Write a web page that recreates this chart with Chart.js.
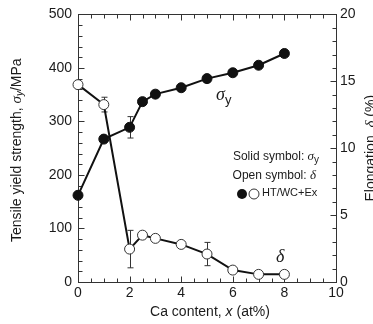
<!DOCTYPE html>
<html>
<head>
<meta charset="utf-8">
<script src="https://cdn.jsdelivr.net/npm/chart.js@4.4.1/dist/chart.umd.min.js"></script>
<style>
  html, body { margin: 0; padding: 0; background: #fff; }
</style>
</head>
<body>
<canvas id="chart" width="373" height="324"></canvas>
<script>
// Ca content, x (at%)
const caContent = [0, 1, 2, 2.5, 3, 4, 5, 6, 7, 8]
// tensile yield strength sigma_y (MPa) - solid symbols
const yieldStrength = [162, 267, 289, 337, 351, 363, 380, 391, 405, 427]
// elongation delta (%) - open symbols
const elongation = [14.75, 13.26, 2.46, 3.5, 3.26, 2.81, 2.09, 0.89, 0.57, 0.57]
// error bars as [x, half range]
const strengthErr = [[2, 20]]
const elongationErr = [[1, 0.55], [2, 1.4], [5, 0.87]]
// tick labels
const xTicks = [0, 2, 4, 6, 8, 10]
const yTicks = [0, 100, 200, 300, 400, 500]
const y2Ticks = [0, 5, 10, 15, 20]

const SANS = "'Liberation Sans', Arial, sans-serif"
const SERIF = "'Liberation Serif', 'Times New Roman', serif"
const INK = '#1b1b1b'

// draws a run of text pieces with different fonts, [text, font, dy]
function richText(ctx, parts, x, y, align, rot) {
  ctx.save()
  ctx.translate(x, y)
  if (rot) ctx.rotate(rot)
  ctx.fillStyle = INK
  ctx.textBaseline = 'middle'
  ctx.textAlign = 'left'
  let w = 0
  parts.forEach(p => { ctx.font = p[1]; w += ctx.measureText(p[0]).width })
  let cx = align === 'right' ? -w : align === 'center' ? -w / 2 : 0
  parts.forEach(p => {
    ctx.font = p[1]
    ctx.fillText(p[0], cx, p[2] || 0)
    cx += ctx.measureText(p[0]).width
  })
  ctx.restore()
}

function seg(ctx, x1, y1, x2, y2) {
  ctx.beginPath()
  ctx.moveTo(x1, y1)
  ctx.lineTo(x2, y2)
  ctx.stroke()
}

const framePlugin = {
  id: 'frame',
  beforeDatasetsDraw(chart) {
    const { ctx, chartArea: a, scales: { x, y, y2 } } = chart
    ctx.save()
    ctx.strokeStyle = '#333'
    ctx.lineWidth = 1
    const L = Math.round(a.left) + 0.5, R = Math.round(a.right) + 0.5
    const T = Math.round(a.top) + 0.5, B = Math.round(a.bottom) + 0.5
    ctx.strokeRect(L, T, R - L, B - T)

    // inward ticks, bottom and top
    for (let v = 0; v <= 10; v += 0.5) {
      const px = Math.round(x.getPixelForValue(v)) + 0.5
      const len = v % 2 === 0 ? 6 : 4
      seg(ctx, px, B, px, B - len)
      seg(ctx, px, T, px, T + len)
    }
    // left axis every 20 MPa
    for (let v = 0; v <= 500; v += 20) {
      const py = Math.round(y.getPixelForValue(v)) + 0.5
      seg(ctx, L, py, L + (v % 100 === 0 ? 6 : 4), py)
    }
    // right axis every 1 %
    for (let v = 0; v <= 20; v += 1) {
      const py = Math.round(y2.getPixelForValue(v)) + 0.5
      seg(ctx, R, py, R - (v % 5 === 0 ? 6 : 4), py)
    }

    // error bars
    const bar = (scale, xv, yv, e) => {
      const px = Math.round(x.getPixelForValue(xv)) + 0.5
      const top = scale.getPixelForValue(yv + e), bot = scale.getPixelForValue(yv - e)
      seg(ctx, px, top, px, bot)
      seg(ctx, px - 3, top, px + 3, top)
      seg(ctx, px - 3, bot, px + 3, bot)
    }
    strengthErr.forEach(([xv, e]) => bar(y, xv, yieldStrength[caContent.indexOf(xv)], e))
    elongationErr.forEach(([xv, e]) => bar(y2, xv, elongation[caContent.indexOf(xv)], e))
    ctx.restore()
  },
  afterDraw(chart) {
    const { ctx, chartArea: a } = chart
    const midY = (a.top + a.bottom) / 2
    const midX = (a.left + a.right) / 2

    // axis titles
    richText(ctx, [
      ['Tensile yield strength, ', '14px ' + SANS],
      ['\u03c3', 'italic 15px ' + SERIF],
      ['y', 'italic 10px ' + SANS, 3],
      ['/MPa', '14px ' + SANS]
    ], 17, midY + 2, 'center', -Math.PI / 2)
    richText(ctx, [
      ['Elongation, ', '14px ' + SANS],
      ['\u03b4', 'italic 15px ' + SERIF],
      [' (%)', '14px ' + SANS]
    ], 371, midY, 'center', -Math.PI / 2)
    richText(ctx, [
      ['Ca content, ', '14px ' + SANS],
      ['x', 'italic 14px ' + SANS],
      [' (at%)', '14px ' + SANS]
    ], midX + 3, 312, 'center')

    // curve labels
    richText(ctx, [
      ['\u03c3', 'italic 18px ' + SERIF],
      ['y', '13px ' + SANS, 5]
    ], 216, 95, 'left')
    richText(ctx, [['\u03b4', 'italic 18px ' + SERIF]], 276, 257, 'left')

    // symbol key
    richText(ctx, [
      ['Solid symbol: ', '12px ' + SANS],
      ['\u03c3', 'italic 13px ' + SERIF],
      ['y', '10px ' + SANS, 3]
    ], 319, 157, 'right')
    richText(ctx, [
      ['Open symbol: ', '12px ' + SANS],
      ['\u03b4', 'italic 13px ' + SERIF]
    ], 316, 176, 'right')

    ctx.save()
    ctx.lineWidth = 1
    ctx.fillStyle = '#111'
    ctx.beginPath(); ctx.arc(242, 194, 5, 0, Math.PI * 2); ctx.fill()
    ctx.fillStyle = '#fff'
    ctx.strokeStyle = '#333'
    ctx.beginPath(); ctx.arc(254, 194, 5, 0, Math.PI * 2); ctx.fill(); ctx.stroke()
    ctx.restore()
    richText(ctx, [['HT/WC+Ex', '11px ' + SANS]], 262, 193, 'left')
  }
}

const tickFont = { family: SANS, size: 14 }
const noGrid = { display: false, drawTicks: false, tickLength: 0 }

new Chart(document.getElementById('chart').getContext('2d'), {
  type: 'line',
  data: {
    datasets: [
      {
        data: caContent.map((v, i) => ({ x: v, y: yieldStrength[i] })),
        yAxisID: 'y',
        borderColor: '#111',
        borderWidth: 2,
        pointRadius: 5,
        pointBackgroundColor: '#111',
        pointBorderColor: '#111',
        pointBorderWidth: 1,
        tension: 0,
        clip: false
      },
      {
        data: caContent.map((v, i) => ({ x: v, y: elongation[i] })),
        yAxisID: 'y2',
        borderColor: '#111',
        borderWidth: 2,
        pointRadius: 5,
        pointBackgroundColor: '#fff',
        pointBorderColor: '#333',
        pointBorderWidth: 1,
        tension: 0,
        clip: false
      }
    ]
  },
  options: {
    responsive: false,
    animation: false,
    events: [],
    layout: { padding: { top: 14, left: 0, right: 0, bottom: 0 } },
    plugins: { legend: { display: false }, tooltip: { enabled: false } },
    scales: {
      x: {
        type: 'linear',
        min: 0,
        max: 10,
        grid: noGrid,
        border: { display: false },
        afterBuildTicks: s => { s.ticks = xTicks.map(v => ({ value: v })) },
        afterFit: s => { s.height = 42 },
        ticks: { font: tickFont, color: INK, padding: 3, maxRotation: 0 }
      },
      y: {
        position: 'left',
        min: 0,
        max: 500,
        grid: noGrid,
        border: { display: false },
        afterBuildTicks: s => { s.ticks = yTicks.map(v => ({ value: v })) },
        afterFit: s => { s.width = 78 },
        ticks: { font: tickFont, color: INK, padding: 6 }
      },
      y2: {
        position: 'right',
        min: 0,
        max: 20,
        grid: noGrid,
        border: { display: false },
        afterBuildTicks: s => { s.ticks = y2Ticks.map(v => ({ value: v })) },
        afterFit: s => { s.width = 37 },
        ticks: { font: tickFont, color: INK, padding: 4 }
      }
    }
  },
  plugins: [framePlugin]
})
</script>
</body>
</html>
